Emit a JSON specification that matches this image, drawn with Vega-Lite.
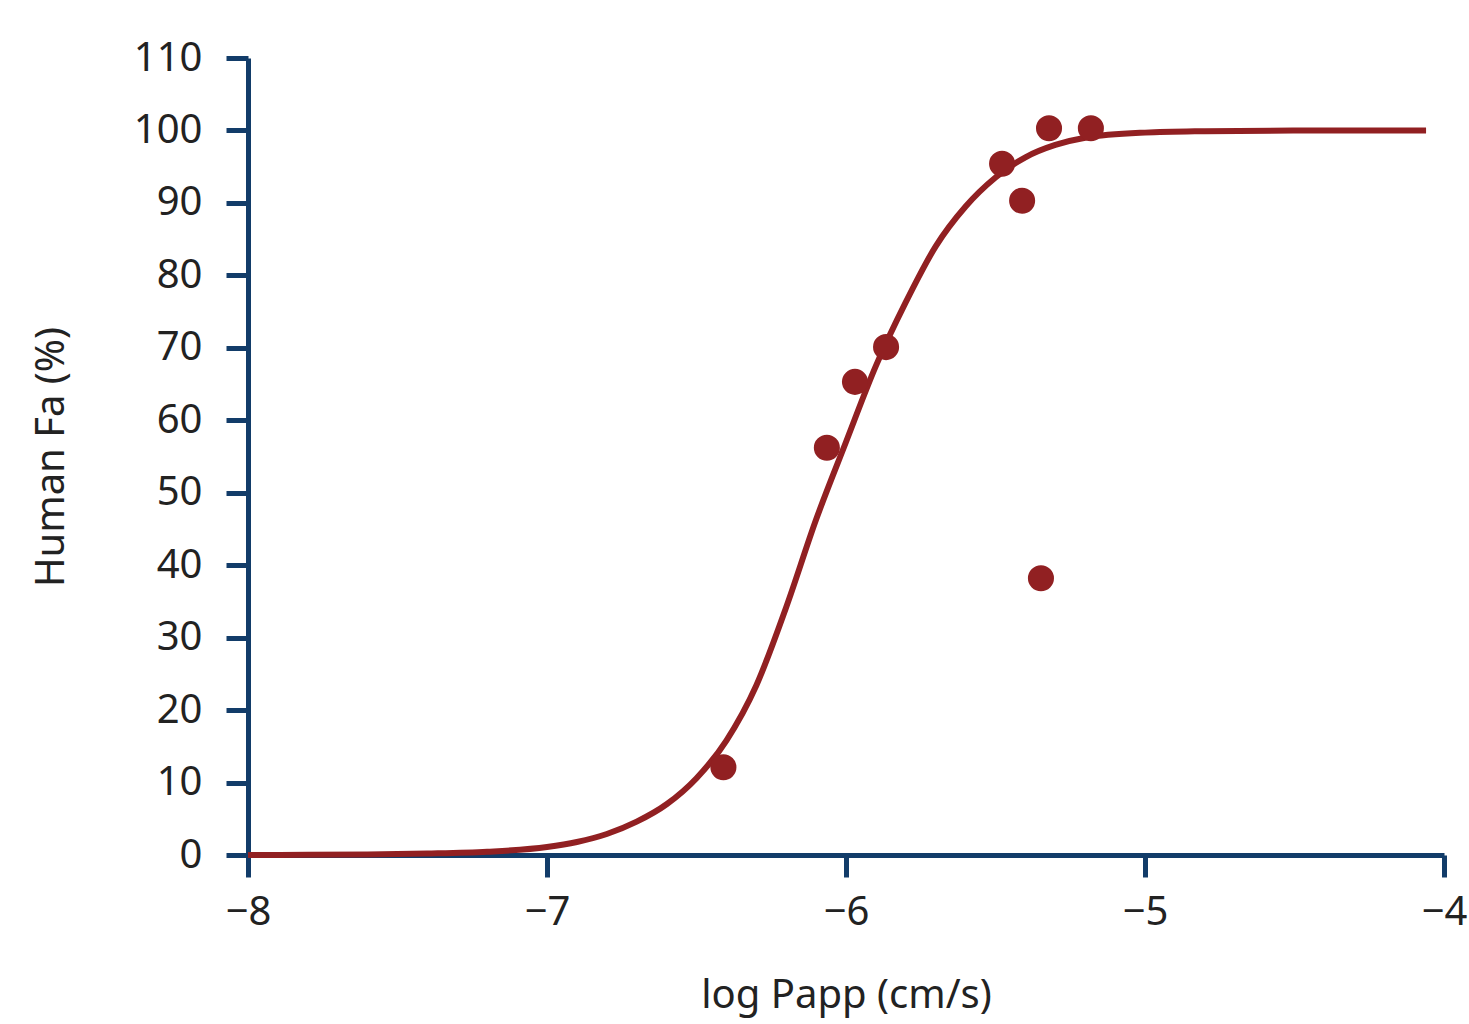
{
  "$schema": "https://vega.github.io/schema/vega-lite/v6.json",
  "width": 1196,
  "height": 797,
  "autosize": {"type": "none"},
  "padding": {"left": 248, "top": 58, "right": 25, "bottom": 169},
  "background": "white",
  "config": {
    "view": {"stroke": null},
    "font": "Noto Sans",
    "axis": {
      "grid": false,
      "labelFlush": false,
      "domainColor": "#123c69",
      "domainWidth": 5,
      "tickColor": "#123c69",
      "tickWidth": 5,
      "tickSize": 22,
      "labelFont": "Noto Sans",
      "labelFontSize": 40,
      "labelColor": "#222222",
      "titleFont": "Noto Sans",
      "titleFontSize": 40,
      "titleFontWeight": "normal",
      "titleColor": "#222222"
    }
  },
  "datasets": {
    "points": [
      {"logPapp": -6.41, "fa": 12.1},
      {"logPapp": -6.064, "fa": 56.2},
      {"logPapp": -5.97, "fa": 65.3},
      {"logPapp": -5.866, "fa": 70.1},
      {"logPapp": -5.478, "fa": 95.4},
      {"logPapp": -5.411, "fa": 90.3},
      {"logPapp": -5.321, "fa": 100.3},
      {"logPapp": -5.348, "fa": 38.2},
      {"logPapp": -5.181, "fa": 100.3}
    ],
    "curve": [
      {"logPapp": -8.0, "fa": 0},
      {"logPapp": -7.8, "fa": 0.03},
      {"logPapp": -7.6, "fa": 0.08},
      {"logPapp": -7.4, "fa": 0.2},
      {"logPapp": -7.2, "fa": 0.45},
      {"logPapp": -7.0, "fa": 1.1},
      {"logPapp": -6.9, "fa": 1.8},
      {"logPapp": -6.8, "fa": 2.9},
      {"logPapp": -6.7, "fa": 4.6},
      {"logPapp": -6.6, "fa": 7.0},
      {"logPapp": -6.5, "fa": 10.6},
      {"logPapp": -6.4, "fa": 15.8},
      {"logPapp": -6.3, "fa": 23.4},
      {"logPapp": -6.2, "fa": 34.2},
      {"logPapp": -6.1, "fa": 46.3},
      {"logPapp": -6.0, "fa": 57.0},
      {"logPapp": -5.9, "fa": 67.5},
      {"logPapp": -5.8, "fa": 76.3},
      {"logPapp": -5.7, "fa": 84.0},
      {"logPapp": -5.6, "fa": 89.5},
      {"logPapp": -5.5, "fa": 93.5},
      {"logPapp": -5.4, "fa": 96.3},
      {"logPapp": -5.3, "fa": 98.0},
      {"logPapp": -5.2, "fa": 99.0},
      {"logPapp": -5.0, "fa": 99.7},
      {"logPapp": -4.8, "fa": 99.9},
      {"logPapp": -4.5, "fa": 100},
      {"logPapp": -4.06, "fa": 100}
    ]
  },
  "layer": [
    {
      "data": {"name": "curve"},
      "mark": {"type": "line", "color": "#912022", "strokeWidth": 6, "interpolate": "monotone"},
      "encoding": {
        "x": {
          "field": "logPapp", "type": "quantitative",
          "scale": {"domain": [-8, -4], "nice": false, "zero": false},
          "axis": {"values": [-8, -7, -6, -5, -4], "format": "d", "title": "log Papp (cm/s)", "labelPadding": 15, "titlePadding": 43}
        },
        "y": {
          "field": "fa", "type": "quantitative",
          "scale": {"domain": [0, 110], "nice": false},
          "axis": {"values": [0, 10, 20, 30, 40, 50, 60, 70, 80, 90, 100, 110], "title": "Human Fa (%)", "labelPadding": 24, "titlePadding": 62}
        }
      }
    },
    {
      "data": {"name": "points"},
      "mark": {"type": "circle", "color": "#912022", "opacity": 1, "size": 680},
      "encoding": {
        "x": {"field": "logPapp", "type": "quantitative"},
        "y": {"field": "fa", "type": "quantitative"}
      }
    }
  ]
}
